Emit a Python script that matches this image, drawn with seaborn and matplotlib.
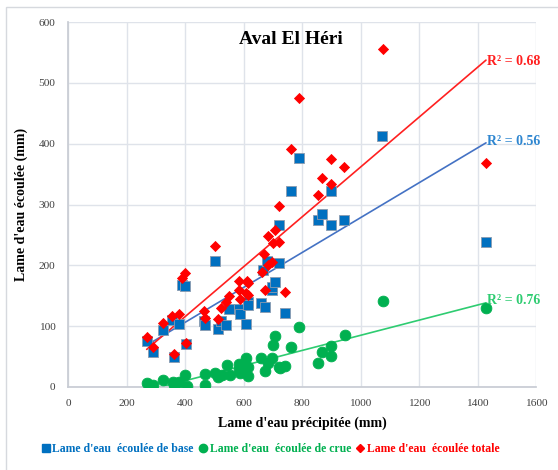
import numpy as np
import pandas as pd
import matplotlib
matplotlib.use("Agg")
import matplotlib.pyplot as plt
import seaborn as sns
from matplotlib.lines import Line2D
from matplotlib.patches import Rectangle

# ---- data ----
base_x = [269, 289, 326, 354, 363, 379, 391, 400, 403, 466, 469, 503, 512, 523, 541, 552,
          583, 589, 609, 615, 617, 661, 666, 672, 682, 697, 699, 709, 720, 723, 741, 764,
          791, 855, 869, 898, 900, 944, 1075, 1429]
base_y = [76, 58, 94, 110, 50, 103, 167, 166, 71, 108, 102, 207, 96, 109, 102, 128,
          128, 120, 104, 139, 134, 138, 192, 132, 207, 159, 165, 173, 204, 267, 122, 323,
          376, 274, 284, 266, 322, 274, 413, 238]

crue_x = [269, 289, 326, 358, 363, 381, 400, 406, 469, 469, 503, 514, 526, 543, 554, 583,
          586, 589, 609, 615, 617, 661, 672, 684, 697, 701, 709, 720, 726, 741, 763, 789,
          855, 869, 898, 900, 946, 1077, 1429]
crue_y = [7, 4, 11, 8, 4, 9, 19, 2, 4, 22, 23, 17, 20, 36, 19, 29,
          37, 23, 48, 33, 18, 48, 26, 39, 48, 69, 84, 33, 32, 35, 66, 99,
          40, 58, 68, 51, 86, 141, 130]

tot_x = [269, 289, 326, 354, 363, 379, 391, 400, 403, 466, 469, 503, 514, 523, 541, 552,
         583, 586, 589, 609, 612, 617, 617, 663, 669, 674, 684, 684, 697, 701, 709, 720,
         723, 741, 764, 791, 855, 869, 898, 900, 944, 1077, 1429]
tot_y = [82, 65, 106, 117, 54, 120, 179, 188, 73, 125, 114, 231, 112, 130, 139, 149,
         160, 175, 145, 154, 175, 171, 151, 189, 219, 160, 249, 200, 206, 236, 258, 239,
         298, 156, 391, 475, 316, 343, 334, 375, 362, 555, 369]

series_names = ["Lame d'eau  écoulée de base", "Lame d'eau  écoulée de crue", "Lame d'eau  écoulée totale"]
r2_labels = ["R² = 0.56", "R² = 0.76", "R² = 0.68"]
title = "Aval El Héri"
xlabel = "Lame d'eau précipitée (mm)"
ylabel = "Lame d'eau écoulée (mm)"

sns.set_theme(style="white")
plt.rcParams['font.family'] = ['Liberation Serif', 'DejaVu Serif']

fig = plt.figure(figsize=(5.58, 4.70), dpi=100)
ax = fig.add_axes([68/558, 1-387/470, (536-68)/558, (387-22)/470])

mcol = ["#0070C0", "#00B050", "#FF0000"]
lcol = ["#4472C4", "#2ECC71", "#FF2020"]
tcol = ["#2E86D0", "#2ECC71", "#FF2020"]
markers = ["s", "o", "D"]
sizes = [55, 60, 26]
data = [(base_x, base_y), (crue_x, crue_y), (tot_x, tot_y)]

for i, (xs, ys) in enumerate(data):
    df = pd.DataFrame({"x": xs, "y": ys})
    sns.regplot(data=df, x="x", y="y", ax=ax, scatter=False, ci=None, truncate=True,
                line_kws=dict(color=lcol[i], lw=1.2, zorder=1))

order = [1, 0, 2]
for i in order:
    xs, ys = data[i]
    df = pd.DataFrame({"x": xs, "y": ys})
    sns.scatterplot(data=df, x="x", y="y", ax=ax, marker=markers[i], s=sizes[i],
                    color=mcol[i], edgecolor="#8a9bb0" if i == 0 else mcol[i],
                    linewidth=0.6, zorder=3, legend=False)

ax.set_xlim(0, 1600)
ax.set_ylim(0, 600)
ax.set_xticks(range(0, 1601, 200))
ax.set_yticks(range(0, 601, 100))
ax.grid(True, color="#dfe3ea", lw=1.0)
ax.set_axisbelow(True)
for s in ["top", "right"]:
    ax.spines[s].set_visible(False)
for s in ["left", "bottom"]:
    ax.spines[s].set_color("#c8ccd4")
ax.tick_params(axis="both", labelsize=8.2, colors="#404040", length=0, pad=9)
ax.set_xlabel(xlabel, fontsize=10, fontweight="bold", color="black", labelpad=6)
ax.set_ylabel(ylabel, fontsize=10, fontweight="bold", color="black", labelpad=8)
ax.text(0.476, 0.975, title, transform=ax.transAxes, ha="center", va="top",
        fontsize=14, fontweight="bold", color="black")

# R² labels near the end of each trend line
r2_pos = [(1432, 403), (1432, 143), (1432, 535)]
for i in range(3):
    ax.text(r2_pos[i][0], r2_pos[i][1], r2_labels[i], ha="left", va="center",
            fontsize=10, fontweight="bold", color=tcol[i])

handles = [Line2D([], [], ls="", marker=markers[i], color=mcol[i], markersize=[6, 6, 4][i])
           for i in range(3)]
leg = fig.legend(handles, series_names, loc="center", bbox_to_anchor=(270/558, 1-449/470),
                 ncol=3, frameon=False, fontsize=8.5, handletextpad=0.1, columnspacing=0.35,
                 handlelength=0.9)
for t, c in zip(leg.get_texts(), mcol):
    t.set_color(c)
    t.set_fontweight("bold")

fig.add_artist(Rectangle((6/558, -0.1), 1.2, 1 - 7/470 + 0.1, transform=fig.transFigure,
                         fill=False, edgecolor="#d6d9de", lw=1))
fig.savefig("out.png", dpi=100)
